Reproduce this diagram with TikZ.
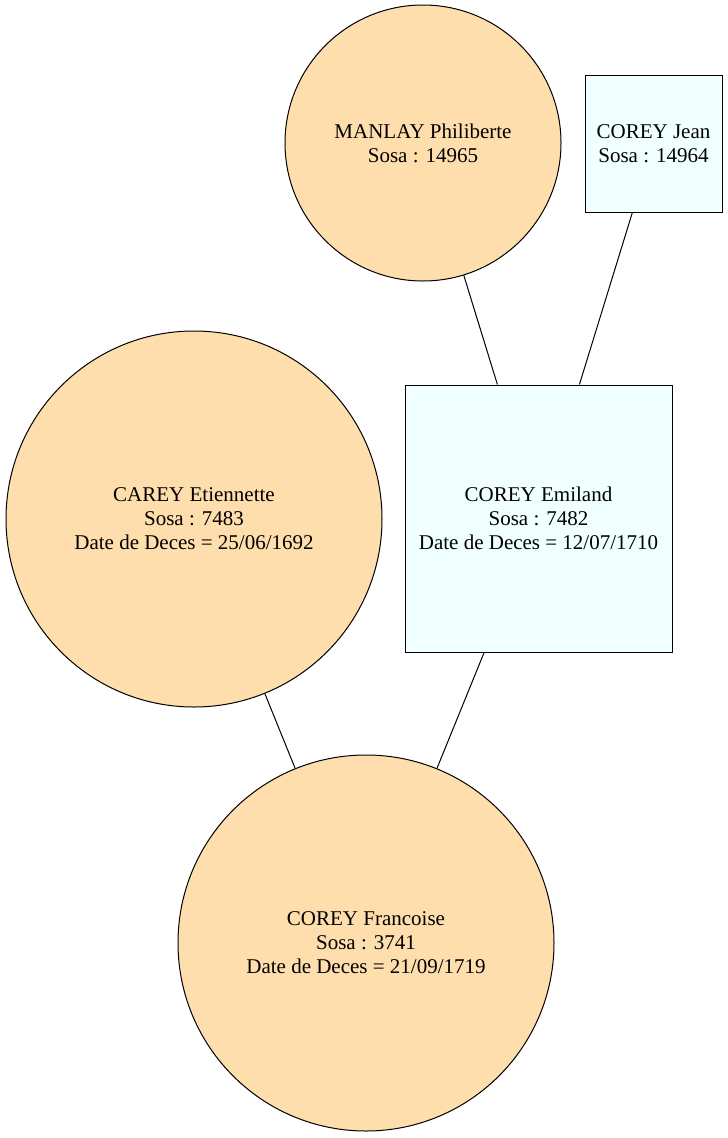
\documentclass[tikz,border=0pt]{standalone}
\usepackage{fontspec}
\setmainfont{Liberation Serif}
\definecolor{navaj}{HTML}{FFDEAD}
\definecolor{azur}{HTML}{F0FFFF}
\begin{document}
\begin{tikzpicture}[x=1pt,y=-1pt,
  fem/.style={circle, draw=black, line width=1pt, fill=navaj, inner sep=0pt, align=center, font=\fontsize{21}{24}\selectfont},
  masc/.style={rectangle, draw=black, line width=1pt, fill=azur, inner sep=0pt, align=center, font=\fontsize{21}{24}\selectfont},
  link/.style={draw=black, line width=1pt}]
\useasboundingbox (0,0) rectangle (728,1138);
\node[fem, minimum size=276pt] (manlay) at (423,143) {MANLAY Philiberte\\Sosa : 14965};
\node[masc, minimum width=137pt, minimum height=137pt] (jean) at (653.5,143.5) {COREY Jean\\Sosa : 14964};
\node[fem, minimum size=376pt] (etien) at (194,519) {CAREY Etiennette\\Sosa : 7483\\Date de Deces = 25/06/1692};
\node[masc, minimum width=267pt, minimum height=267pt] (emil) at (538.5,518.5) {COREY Emiland\\Sosa : 7482\\Date de Deces = 12/07/1710};
\node[fem, minimum size=376pt] (fran) at (366,943) {COREY Francoise\\Sosa : 3741\\Date de Deces = 21/09/1719};
\draw[link] (manlay) -- (emil);
\draw[link] (jean) -- (emil);
\draw[link] (etien) -- (fran);
\draw[link] (emil) -- (fran);
\end{tikzpicture}
\end{document}
